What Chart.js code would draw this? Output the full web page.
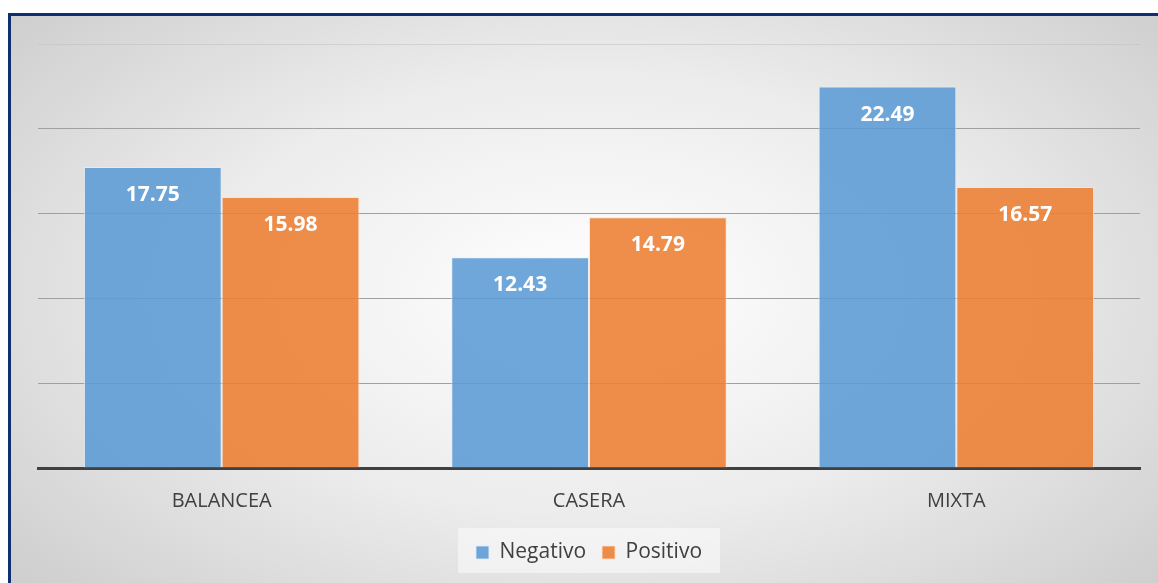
<!DOCTYPE html>
<html>
<head>
<meta charset="utf-8">
<script src="https://cdn.jsdelivr.net/npm/chart.js@4"></script>
<style>
  body { margin: 0; background: #fff; overflow: hidden; }
  #wrap {
    position: absolute; left: 8px; top: 13px; width: 1160px; height: 580px;
    border-top: 3px solid #0e2f73; border-left: 3px solid #0e2f73;
    background: radial-gradient(ellipse 75% 85% at 50% 48%, #ffffff 0%, #ececec 45%, #c6c6c6 100%);
  }
  #canvas { position: absolute; left: 0; top: 0; }
</style>
</head>
<body>
<div id="wrap"><canvas id="canvas" width="1158" height="570"></canvas></div>
<script>
const categories = ['BALANCEA', 'CASERA', 'MIXTA']
const negativo = [17.75, 12.43, 22.49]
const positivo = [15.98, 14.79, 16.57]

const valueLabels = {
    id: 'valueLabels',
    afterDatasetsDraw(chart) {
        const ctx = chart.ctx
        ctx.save()
        ctx.font = 'bold 21px "Open Sans", sans-serif'
        ctx.fillStyle = '#ffffff'
        ctx.textAlign = 'center'
        ctx.textBaseline = 'middle'
        chart.data.datasets.forEach((ds, i) => {
            chart.getDatasetMeta(i).data.forEach((bar, j) => {
                ctx.fillText(ds.data[j].toFixed(2), bar.x, bar.y + 28)
            })
        })
        ctx.restore()
    }
}

const legendBox = {
    id: 'legendBox',
    beforeDraw(chart) {
        const l = chart.legend
        const ctx = chart.ctx
        ctx.save()
        ctx.fillStyle = 'rgba(250,250,250,0.6)'
        const w = 262
        ctx.fillRect((l.left + l.right) / 2 - w / 2, l.top + 2, w, 45)
        ctx.restore()
    }
}

const data = {
    labels: categories,
    datasets: [
        {
            label: 'Negativo',
            data: negativo,
            backgroundColor: 'rgba(91,155,213,0.88)',
            borderColor: 'rgba(225,238,250,0.8)',
            borderWidth: 1,
        },
        {
            label: 'Positivo',
            data: positivo,
            backgroundColor: 'rgba(237,125,49,0.88)',
            borderColor: 'rgba(252,225,205,0.8)',
            borderWidth: 1,
        },
    ],
}

const config = {
    type: 'bar',
    data: data,
    plugins: [legendBox, valueLabels],
    options: {
        responsive: false,
        animation: false,
        layout: { padding: { left: 27, right: 29, top: 28, bottom: 13 } },
        datasets: { bar: { categoryPercentage: 0.75, barPercentage: 1 } },
        scales: {
            x: {
                grid: { display: false },
                border: { color: '#404040', width: 3 },
                ticks: { color: '#404040', font: { size: 20, family: '"Open Sans", sans-serif' }, padding: 13 },
            },
            y: {
                min: 0, max: 25,
                ticks: { display: false, stepSize: 5 },
                border: { display: false },
                grid: {
                    color: ctx => ctx.tick.value === 25 ? 'rgba(190,190,190,0.5)' : '#a0a0a0',
                    drawTicks: false,
                },
            },
        },
        plugins: {
            legend: {
                position: 'bottom',
                labels: {
                    color: '#404040',
                    font: { size: 21, family: '"Open Sans", sans-serif' },
                    boxWidth: 13, boxHeight: 13,
                    padding: 16,
                },
            },
            tooltip: { enabled: false },
        },
    },
}
const canvas = document.getElementById('canvas')
const chart = new Chart(canvas, config)
</script>
</body>
</html>
